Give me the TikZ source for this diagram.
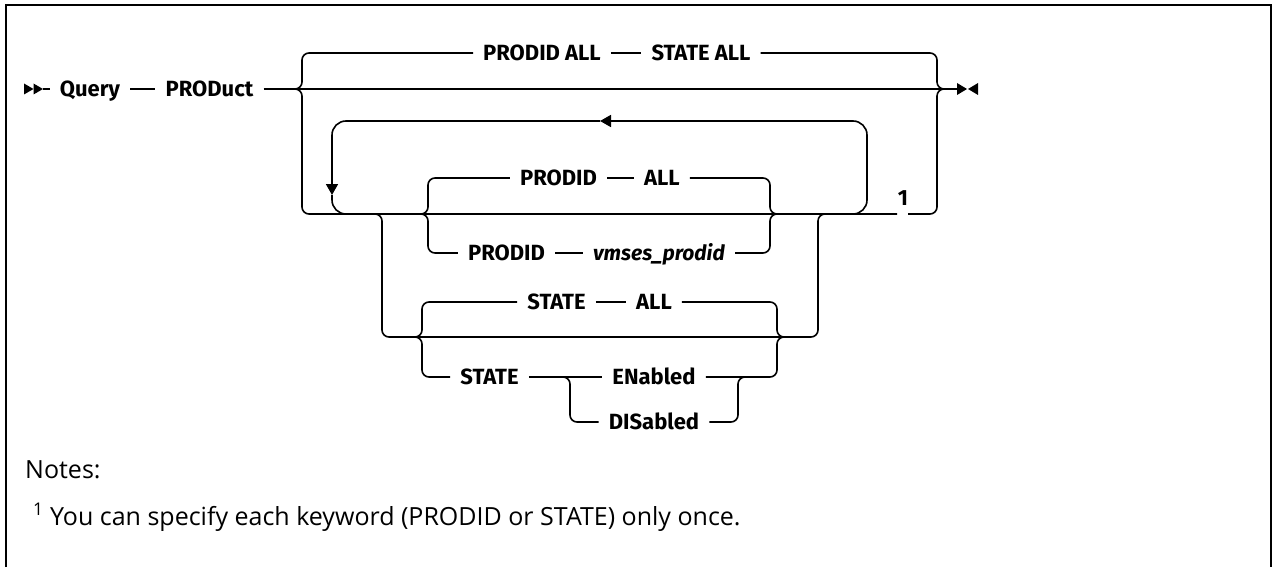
\documentclass[tikz,border=0pt]{standalone}
\usepackage{fontspec}
\newfontfamily\kwfont{Fira Sans}
\newfontfamily\notefont{Open Sans}
\usetikzlibrary{arrows.meta}

\begin{document}
\begin{tikzpicture}[x=1pt,y=-1pt,
  rail/.style={line width=1.6pt,rounded corners=7pt},
  back/.style={rail,rounded corners=14pt},
  arr/.style={-{Triangle[length=11pt,width=12pt]}},
  kw/.style={font=\kwfont\bfseries\fontsize{22}{22}\selectfont,inner xsep=10pt,inner ysep=0pt,
    text height=15pt,text depth=0pt},
  varw/.style={kw,font=\kwfont\bfseries\itshape\fontsize{21}{21}\selectfont,text height=14.5pt},
  notetxt/.style={font=\notefont\fontsize{25}{25}\selectfont,anchor=west,inner sep=0pt,
    text height=18pt,text depth=0pt}]
  \fill[white] (0,0) rectangle (1273,567);
  \useasboundingbox (0,0) rectangle (1273,567);
  \draw[line width=2pt] (6,567) -- (6,5) -- (1271,5) -- (1271,567);

  % keywords
  \node[kw] (qry) at (90,89) {Query};
  \node[kw] (prod) at (209.5,89) {PRODuct};
  \node[kw] (pall) at (542,53) {PRODID ALL};
  \node[kw] (sall) at (701,53) {STATE ALL};
  \node[kw] (pid1) at (558.5,178) {PRODID};
  \node[kw] (all1) at (662,178) {ALL};
  \node[kw] (pid2) at (506.5,253) {PRODID};
  \node[varw] (vms) at (659,253) {vmses\_prodid};
  \node[kw] (st1) at (556.5,302) {STATE};
  \node[kw] (all2) at (654,302) {ALL};
  \node[kw] (st2) at (489.5,377) {STATE};
  \node[kw] (ena) at (654,377) {ENabled};
  \node[kw] (dis) at (654,422) {DISabled};
  \node[kw,inner xsep=2pt] (fn) at (903,198) {1};

  % junctions
  \coordinate (go) at (43,89);
  \coordinate (stop) at (957,89);
  \coordinate (sl) at (290,89);
  \coordinate (sr) at (947,89);
  \coordinate (lx) at (302,89);
  \coordinate (rx) at (937,89);
  \coordinate (bl) at (302,214);
  \coordinate (g1) at (897,214);
  \coordinate (g2) at (908,214);
  \coordinate (lpr) at (845,214);
  \coordinate (lptr) at (867,121);
  \coordinate (ltip) at (600,121);
  \coordinate (dtip) at (332,195);
  \coordinate (lpl) at (350,214);
  \coordinate (ps) at (416,214);
  \coordinate (px) at (428,214);
  \coordinate (pxr) at (770,214);
  \coordinate (pe) at (782,214);
  \coordinate (ds) at (370,214);
  \coordinate (dx) at (382,337);
  \coordinate (ux) at (818,214);
  \coordinate (ue) at (832,214);
  \coordinate (ss) at (412,337);
  \coordinate (sx) at (422,337);
  \coordinate (sxr) at (777,337);
  \coordinate (se) at (787,337);
  \coordinate (es) at (560,377);
  \coordinate (ex) at (570,377);
  \coordinate (exr) at (738,377);
  \coordinate (ee) at (748,377);

  % start and end
  \fill (go) -- ++(-9.5,-5.5) -- ++(0,11) -- cycle;
  \fill ([xshift=-9.5pt]go) -- ++(-9.5,-5.5) -- ++(0,11) -- cycle;
  \fill (stop) ++(0,-6) -- ++(10,6) -- ++(-10,6) -- cycle;
  \fill ([xshift=21pt]stop) ++(0,-6) -- ++(-10,6) -- ++(10,6) -- cycle;

  % main line
  \draw[rail] (go) -- (qry);
  \draw[rail] (qry) -- (prod);
  \draw[rail] (prod) -- (stop);
  \draw[rail] (sl) -| (lx |- pall) -- (pall);
  \draw[rail] (pall) -- (sall);
  \draw[rail] (sall) -| (rx) -- (sr);
  \draw[rail] (sl) -| (bl) -- (g1);
  \draw[rail] (g2) -| (rx) -- (sr);

  % repeat
  \draw[back,arr] (lpr) -| (lptr) -- (ltip);
  \draw[back,arr] (ltip) -| (dtip);
  \draw[back] (dtip) |- (lpl);

  % PRODID
  \draw[rail] (ps) -| (px |- pid1) -- (pid1);
  \draw[rail] (pid1) -- (all1);
  \draw[rail] (all1) -| (pxr) -- (pe);
  \draw[rail] (ps) -| (px |- pid2) -- (pid2);
  \draw[rail] (pid2) -- (vms);
  \draw[rail] (vms) -| (pxr) -- (pe);

  % STATE
  \draw[rail] (ds) -| (dx) -| (ux) -- (ue);
  \draw[rail] (ss) -| (sx |- st1) -- (st1);
  \draw[rail] (st1) -- (all2);
  \draw[rail] (all2) -| (sxr) -- (se);
  \draw[rail] (ss) -| (sx |- st2) -- (st2);
  \draw[rail] (st2) -- (ena);
  \draw[rail] (ena) -| (sxr) -- (se);
  \draw[rail] (es) -| (ex |- dis) -- (dis);
  \draw[rail] (dis) -| (exr) -- (ee);

  % notes
  \node[notetxt] (notes) at (25,469) {Notes:};
  \node[notetxt] (fnote) at (33,516) {\textsuperscript{1} You can specify each keyword (PRODID or STATE) only once.};
\end{tikzpicture}
\end{document}
